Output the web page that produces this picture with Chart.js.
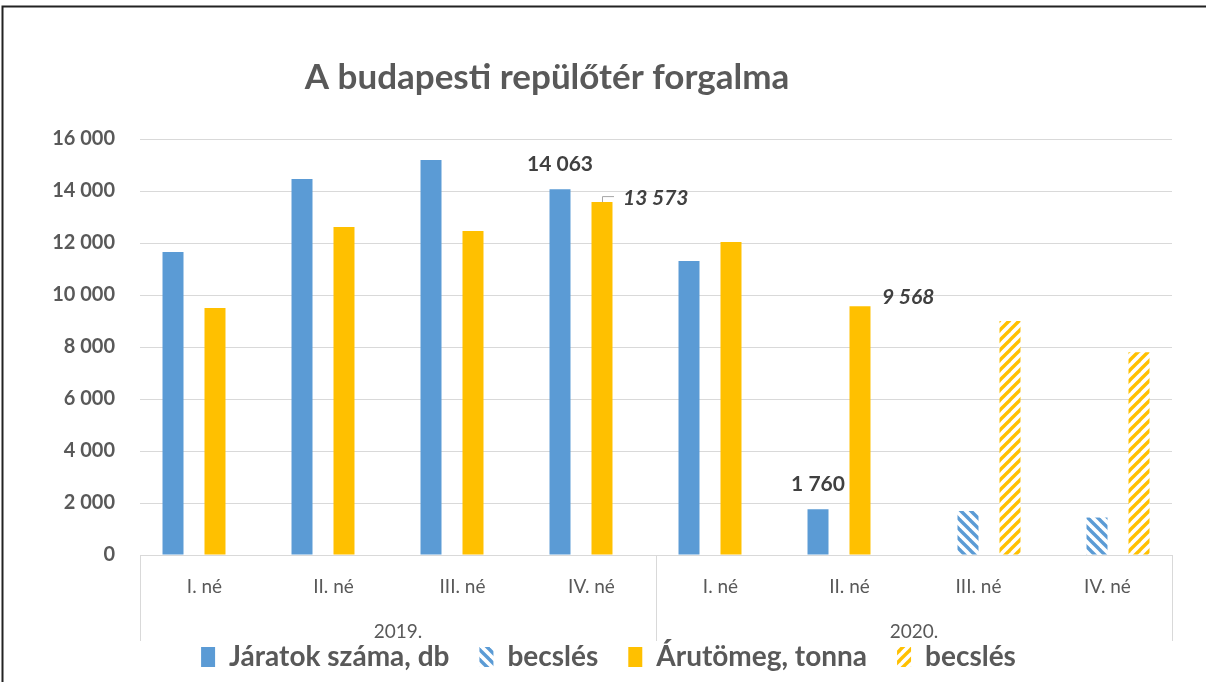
<!DOCTYPE html>
<html><head><meta charset="utf-8">
<script src="https://cdn.jsdelivr.net/npm/chart.js@4"></script>
<style>html,body{margin:0;padding:0;background:#fff}#wrap{width:1206px;height:682px;position:relative}</style>
</head><body><div id="wrap"><canvas id="c" width="1206" height="682"></canvas></div>
<script>
// ---- data ----
const titleText = 'A budapesti repülőtér forgalma';
const quarters = ['I. né','II. né','III. né','IV. né','I. né','II. né','III. né','IV. né'];
const years = ['2019.','2020.'];
const quartersPerYear = 4;
const seriesNames = ['Járatok száma, db','becslés','Árutömeg, tonna','becslés'];
const flights    = [11650,14460,15190,14063,11310,1760,null,null];
const flightsEst = [null,null,null,null,null,null,1690,1440];
const cargo      = [9500,12615,12460,13573,12040,9568,null,null];
const cargoEst   = [null,null,null,null,null,null,9000,7800];
const yMin = 0, yMax = 16000, yStep = 2000;
// which values carry a data label: [dataset, index, style]
const labelledPoints = [[0,3,'top'],[0,5,'top'],[2,3,'leader'],[2,5,'right']];

// ---- styles ----
const BLUE = '#5B9BD5', ORANGE = '#FFC000', TXT = '#595959', LBL = '#404040', GRID = '#D9D9D9';
const FONT = 'Lato, "Open Sans", "Liberation Sans", sans-serif';

const cv = document.getElementById('c');
const ctx = cv.getContext('2d');
function hatch(color, dir){
  const s = 10, c = document.createElement('canvas'); c.width = s; c.height = s;
  const g = c.getContext('2d');
  g.fillStyle = '#fff'; g.fillRect(0,0,s,s);
  g.strokeStyle = color; g.lineWidth = 3.4; g.lineCap = 'square';
  const segs = dir === '/' ? [[0,s,s,0],[-s/2,s/2,s/2,-s/2],[s/2,s*1.5,s*1.5,s/2]]
                           : [[0,0,s,s],[-s/2,s/2,s/2,s*1.5],[s/2,-s/2,s*1.5,s/2]];
  segs.forEach(([a,b,c2,d])=>{g.beginPath();g.moveTo(a,b);g.lineTo(c2,d);g.stroke();});
  return ctx.createPattern(c,'repeat');
}
const fmt = v => String(v).replace(/\B(?=(\d{3})+(?!\d))/g,' ');

const framePlugin = {
  id:'frame',
  beforeDraw(chart){
    const g = chart.ctx;
    g.save(); g.fillStyle='#fff'; g.fillRect(0,0,chart.width,chart.height);
    g.strokeStyle='#222'; g.lineWidth=2;
    g.beginPath(); g.moveTo(2.5,682); g.lineTo(2.5,6.5); g.lineTo(1206,6.5); g.stroke();
    g.restore();
  },
  afterDraw(chart){
    const g = chart.ctx, x = chart.scales.x;
    g.save();
    // title
    g.fillStyle = TXT; g.font = 'bold 35px ' + FONT; g.textAlign='center'; g.textBaseline='alphabetic';
    g.fillText(titleText, 547, 89);
    // multi-level category box + year group labels
    g.strokeStyle = GRID; g.lineWidth = 1;
    const bounds = [x.left];
    years.forEach((yr, k)=>{
      const last = (k+1)*quartersPerYear - 1;
      const right = last < quarters.length - 1 ? (x.getPixelForValue(last) + x.getPixelForValue(last+1))/2 : x.right;
      const left = bounds[bounds.length-1];
      bounds.push(right);
      g.fillStyle = TXT; g.font = '19px ' + FONT; g.textAlign='center'; g.textBaseline='middle';
      g.fillText(yr, (left+right)/2, 632);
    });
    bounds.forEach(px=>{
      g.beginPath(); g.moveTo(Math.round(px)+0.5, chart.chartArea.bottom); g.lineTo(Math.round(px)+0.5, 641); g.stroke();
    });
    g.restore();
  },
  afterDatasetsDraw(chart){
    const g = chart.ctx;
    g.save();
    labelledPoints.forEach(([ds,i,style])=>{
      const el = chart.getDatasetMeta(ds).data[i];
      const v = chart.data.datasets[ds].data[i];
      g.fillStyle = LBL;
      if (style === 'top'){
        g.font = 'bold 21px ' + FONT; g.textAlign='center'; g.textBaseline='middle';
        g.fillText(fmt(v), el.x, el.y - 25);
      } else if (style === 'leader'){
        g.strokeStyle = '#A6A6A6'; g.lineWidth = 1;
        g.beginPath(); g.moveTo(el.x+0.5, el.y); g.lineTo(el.x+0.5, el.y-5.5); g.lineTo(el.x+12, el.y-5.5); g.stroke();
        g.font = 'italic bold 21px ' + FONT; g.textAlign='left'; g.textBaseline='middle';
        g.fillText(fmt(v), el.x + 21, el.y - 4);
      } else {
        g.font = 'italic bold 21px ' + FONT; g.textAlign='left'; g.textBaseline='middle';
        g.fillText(fmt(v), el.x + 22, el.y - 9);
      }
    });
    g.restore();
  }
};

new Chart(cv, {
  type:'bar',
  data:{
    labels: quarters,
    datasets:[
      {label:seriesNames[0], data:flights,    backgroundColor:BLUE},
      {label:seriesNames[1], data:flightsEst, backgroundColor:hatch(BLUE,'\\')},
      {label:seriesNames[2], data:cargo,      backgroundColor:ORANGE},
      {label:seriesNames[3], data:cargoEst,   backgroundColor:hatch(ORANGE,'/')}
    ]
  },
  options:{
    responsive:false, animation:false,
    devicePixelRatio:1,
    layout:{padding:{left:45,right:34,top:139,bottom:1}},
    datasets:{bar:{categoryPercentage:0.651, barPercentage:1.0, borderWidth:0}},
    plugins:{
      legend:{
        position:'bottom',
        labels:{
          color:TXT, font:{family:FONT, size:28, weight:'bold'},
          boxWidth:14, boxHeight:20, padding:30
        }
      },
      tooltip:{enabled:false},
      title:{display:false}
    },
    scales:{
      y:{
        min:yMin, max:yMax,
        ticks:{stepSize:yStep, color:TXT, font:{family:FONT, size:20, weight:'bold'}, padding:25,
               callback:v=>fmt(v)},
        grid:{color:GRID, drawTicks:false},
        border:{display:false},
        afterFit(s){ s.width = 95; }
      },
      x:{
        ticks:{color:TXT, font:{family:FONT, size:19}, padding:12, maxRotation:0},
        grid:{display:false},
        border:{color:GRID},
        afterFit(s){ s.height = 58; }
      }
    }
  },
  plugins:[framePlugin]
});
</script></body></html>
